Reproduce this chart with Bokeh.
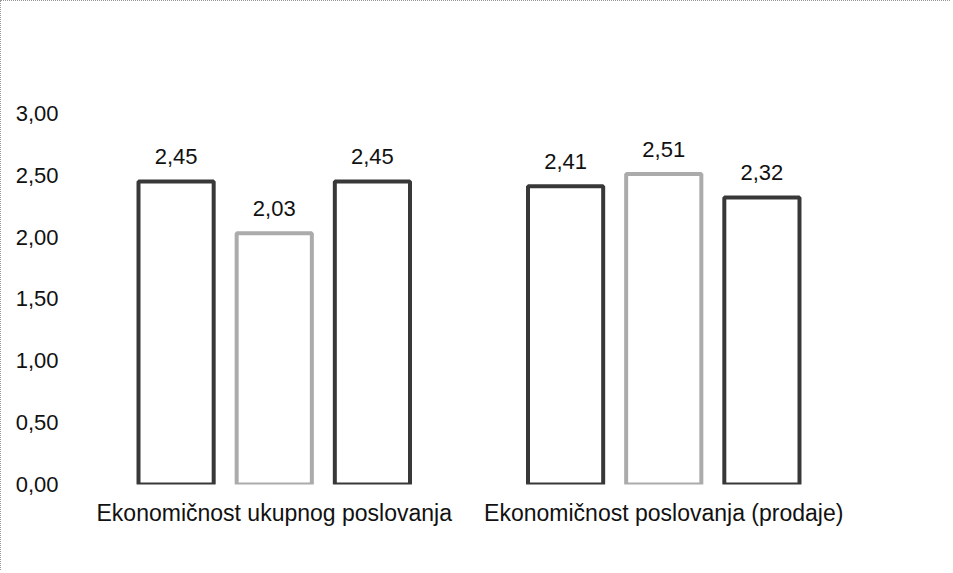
from bokeh.plotting import figure
from bokeh.models import ColumnDataSource, FactorRange, Range1d, FixedTicker, CustomJSTickFormatter
from bokeh.transform import dodge
from bokeh.embed import file_html
from bokeh.resources import INLINE
from bokeh.core.properties import value

categories = ["Ekonomičnost ukupnog poslovanja", "Ekonomičnost poslovanja (prodaje)"]
series_a = [2.45, 2.41]
series_b = [2.03, 2.51]
series_c = [2.45, 2.32]
y_ticks = [0, 0.5, 1.0, 1.5, 2.0, 2.5, 3.0]

FONT = "Liberation Sans"
FS = "22px"

src = ColumnDataSource(dict(
    cat=categories,
    a=series_a, b=series_b, c=series_c,
    la=[f"{v:.2f}".replace(".", ",") for v in series_a],
    lb=[f"{v:.2f}".replace(".", ",") for v in series_b],
    lc=[f"{v:.2f}".replace(".", ",") for v in series_c],
))

p = figure(width=950, height=570, x_range=FactorRange(*categories, range_padding=0),
           y_range=Range1d(0, 3.5), output_backend="svg", toolbar_location=None,
           min_border_left=78, min_border_right=93, min_border_top=50, min_border_bottom=87)

p.styles = {"border-top": "1px dotted #9a9a9a", "border-left": "1px dotted #9a9a9a"}

off = 0.252
w = 0.193
dark = "#383838"
light = "#ababab"
for col, lab, dx, color in [("a", "la", -off, dark), ("b", "lb", 0.0, light), ("c", "lc", off, dark)]:
    p.vbar(x=dodge("cat", dx, range=p.x_range), top=col, bottom=0, width=w, source=src,
           fill_color="white", line_color=color, line_width=4)
    p.text(x=dodge("cat", dx, range=p.x_range), y=col, text=lab, source=src,
           text_align="center", text_baseline="bottom", y_offset=-17,
           text_font=value(FONT), text_font_size=FS, text_color="#111111")

p.xgrid.visible = False
p.ygrid.visible = False
p.outline_line_color = None

p.yaxis.ticker = FixedTicker(ticks=y_ticks)
p.yaxis.formatter = CustomJSTickFormatter(code="return tick.toFixed(2).replace('.', ',');")
for ax in (p.xaxis, p.yaxis):
    ax.axis_line_color = None
    ax.major_tick_line_color = None
    ax.minor_tick_line_color = None
    ax.major_label_text_font = FONT
    ax.major_label_text_font_size = FS
    ax.major_label_text_color = "#111111"
p.xaxis.major_label_text_font_size = "23px"
p.yaxis.major_label_standoff = 15
p.xaxis.major_label_standoff = 9

open("out.html", "w").write(file_html(p, INLINE))
